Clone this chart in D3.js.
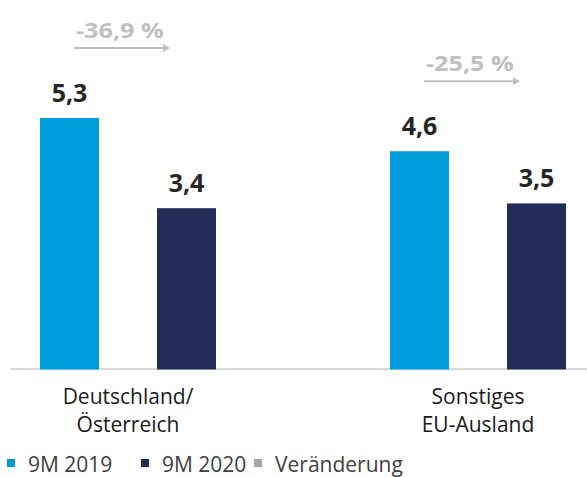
<!DOCTYPE html>
<html>
<head>
<meta charset="utf-8">
<script src="https://cdn.jsdelivr.net/npm/d3@7"></script>
<style>
    body { margin: 0; background: #fff; }
    svg { display: block; font-family: 'Open Sans', sans-serif; }
</style>
</head>
<body>
<svg id="chart" width="587" height="477"></svg>
<script>
var categories = [['Deutschland/', 'Österreich'], ['Sonstiges', 'EU-Ausland']];
var seriesNames = ['9M 2019', '9M 2020'];
var values2019 = [5.3, 4.6];
var values2020 = [3.4, 3.5];
var changeLabels = ['-36,9 %', '-25,5 %'];
var legendNames = ['9M 2019', '9M 2020', 'Veränderung'];
var colors = ['#009fdb', '#212d57', '#a6a6a6'];

var svg = d3.select('#chart'),
    baseY = 369.5,
    keys = categories.map(function(c) { return c.join(' '); });

var y = d3.scaleLinear()
    .domain([0, 6])
    .range([baseY, baseY - 6 * 47.45]);

var x0 = d3.scalePoint()
    .domain(keys)
    .range([128, 478]);

var x1 = d3.scaleBand()
    .domain(seriesNames)
    .range([-88, 88])
    .paddingInner(0.496);

var data = keys.map(function(k, i) {
    return {
        key: k,
        lines: categories[i],
        change: changeLabels[i],
        values: [
            { series: seriesNames[0], value: values2019[i] },
            { series: seriesNames[1], value: values2020[i] }
        ]
    };
});

var color = d3.scaleOrdinal().domain(legendNames).range(colors);
var fmt = function(v) { return d3.format('.1f')(v).replace('.', ','); };

// baseline
svg.append('line')
    .attr('x1', 11).attr('x2', 587)
    .attr('y1', baseY - 0.5).attr('y2', baseY - 0.5)
    .attr('stroke', '#d9d9d9')
    .attr('stroke-width', 2);

var group = svg.selectAll('g.group')
    .data(data)
    .enter().append('g')
    .attr('class', 'group')
    .attr('transform', function(d) { return 'translate(' + x0(d.key) + ',0)'; });

group.selectAll('rect')
    .data(function(d) { return d.values; })
    .enter().append('rect')
    .attr('x', function(d) { return x1(d.series); })
    .attr('width', x1.bandwidth())
    .attr('y', function(d) { return y(d.value); })
    .attr('height', function(d) { return baseY - y(d.value); })
    .attr('fill', function(d) { return color(d.series); });

group.selectAll('text.value')
    .data(function(d) { return d.values; })
    .enter().append('text')
    .attr('class', 'value')
    .attr('x', function(d) { return x1(d.series) + x1.bandwidth() / 2; })
    .attr('y', function(d) { return y(d.value) - 16; })
    .attr('text-anchor', 'middle')
    .attr('font-size', 25)
    .attr('font-weight', 700)
    .attr('fill', '#262626')
    .text(function(d) { return fmt(d.value); });

// change annotation with arrow
var ann = group.append('g')
    .attr('transform', function(d) {
        var top = y(d3.max(d.values, function(v) { return v.value; }));
        return 'translate(-7,' + (top - 70) + ')';
    });

ann.append('line')
    .attr('x1', -47).attr('x2', 44)
    .attr('y1', 0).attr('y2', 0)
    .attr('stroke', '#bfbfbf')
    .attr('stroke-width', 2);

ann.append('path')
    .attr('d', 'M42,-4L49,0L42,4Z')
    .attr('fill', '#bfbfbf');

ann.append('text')
    .attr('transform', 'translate(-45,-10) scale(1.2,1)')
    .attr('font-size', 21)
    .attr('font-weight', 700)
    .attr('fill', '#bfbfbf')
    .text(function(d) { return d.change; });

// category labels
var cat = group.append('text')
    .attr('text-anchor', 'middle')
    .attr('font-size', 21)
    .attr('fill', '#1a1a1a');

cat.selectAll('tspan')
    .data(function(d) { return d.lines; })
    .enter().append('tspan')
    .attr('x', 0)
    .attr('y', function(d, i) { return 404 + i * 28; })
    .text(function(d) { return d; });

// legend
var legendX = [7, 141, 254];
var legend = svg.selectAll('g.legend')
    .data(legendNames)
    .enter().append('g')
    .attr('class', 'legend')
    .attr('transform', function(d, i) { return 'translate(' + legendX[i] + ',459)'; });

legend.append('rect')
    .attr('width', 8).attr('height', 8)
    .attr('fill', function(d) { return color(d); });

legend.append('text')
    .attr('x', 21)
    .attr('y', 13)
    .attr('font-size', 21)
    .attr('fill', '#404040')
    .text(function(d) { return d; });
</script>
</body>
</html>
